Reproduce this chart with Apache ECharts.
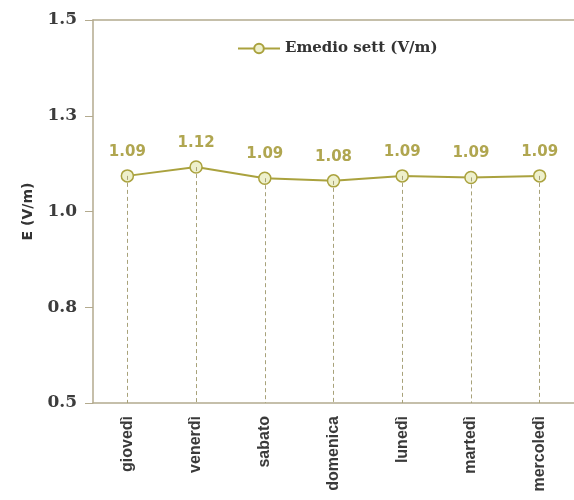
<!DOCTYPE html>
<html>
<head>
<meta charset="utf-8">
<script src="https://cdn.jsdelivr.net/npm/echarts@6/dist/echarts.min.js"></script>
<style>html,body{margin:0;padding:0;background:#fff}#c{width:574px;height:500px}</style>
</head>
<body>
<div id="c"></div>
<script>
const categories = ['giovedì', 'venerdì', 'sabato', 'domenica', 'lunedì', 'martedì', 'mercoledì'];
const values = [1.093, 1.116, 1.087, 1.080, 1.093, 1.089, 1.093];
const seriesName = 'Emedio sett (V/m)';
const yMin = 0.5, yMax = 1.5, yStep = 0.25;

const chart = echarts.init(document.getElementById('c'));
const lineColor = '#aaa23e';
const axisColor = '#b3aa8e';
chart.setOption({
  backgroundColor: '#fff',
  animation: false,
  grid: { left: 93, top: 20, width: 483, height: 383 },
  legend: {
    data: [seriesName],
    top: 36, left: 232,
    itemWidth: 42, itemHeight: 12,
    textStyle: { fontFamily: 'DejaVu Serif', fontWeight: 'bold', fontSize: 15, color: '#333' }
  },
  xAxis: [{
    type: 'category', data: categories, boundaryGap: true,
    axisLine: { lineStyle: { color: axisColor, width: 1.5 } },
    axisTick: { show: false },
    axisLabel: { rotate: 90, margin: 13, fontFamily: 'Liberation Sans', fontWeight: 'bold', fontSize: 16, color: '#3a3a3a' }
  }, {
    type: 'category', data: categories, position: 'top',
    axisLine: { show: true, lineStyle: { color: axisColor, width: 1.5 } },
    axisTick: { show: false }, axisLabel: { show: false }
  }],
  yAxis: {
    type: 'value', min: yMin, max: yMax, interval: yStep,
    name: 'E (V/m)', nameLocation: 'middle', nameGap: 58, nameRotate: 90,
    nameTextStyle: { fontFamily: 'DejaVu Sans', fontWeight: 'bold', fontSize: 14, color: '#333' },
    axisLine: { show: true, lineStyle: { color: axisColor, width: 1.5 } },
    axisTick: { show: true, length: 8, lineStyle: { color: axisColor } },
    splitLine: { show: false },
    axisLabel: {
      margin: 16, fontFamily: 'DejaVu Serif', fontWeight: 'bold', fontSize: 17, color: '#3c3c3c',
      formatter: v => v.toFixed(1)
    }
  },
  series: [{
    name: seriesName, type: 'line', data: values,
    symbol: 'circle', symbolSize: 12,
    lineStyle: { color: lineColor, width: 2 },
    itemStyle: { color: '#eef0cc', borderColor: lineColor, borderWidth: 1.5 },
    label: {
      show: true, position: 'top', distance: 10,
      fontFamily: 'DejaVu Sans', fontWeight: 'bold', fontSize: 15, color: '#b0a650',
      formatter: p => p.value.toFixed(2)
    },
    markLine: {
      silent: true, symbol: 'none', label: { show: false },
      lineStyle: { color: '#a8a27a', type: [4, 3], width: 1 },
      data: values.map((v, i) => [{ coord: [i, v] }, { coord: [i, yMin] }])
    },
    z: 3
  }]
});
</script>
</body>
</html>
